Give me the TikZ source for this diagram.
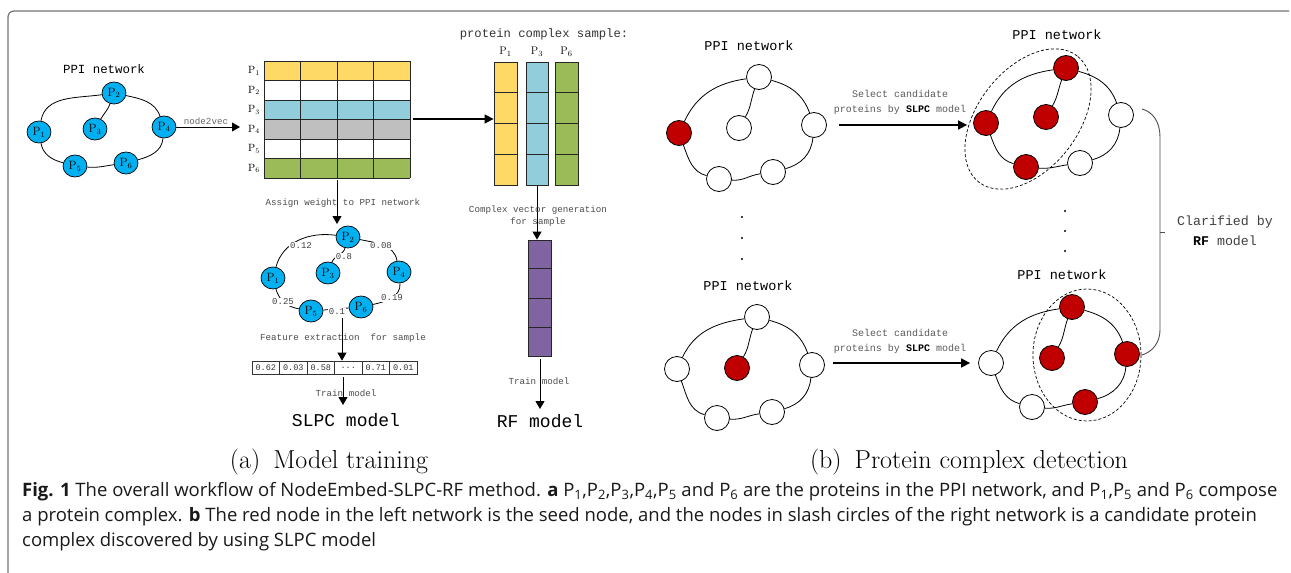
\documentclass[tikz,border=0pt]{standalone}
\usepackage{fontspec}
\setmonofont{Liberation Mono}
\newfontfamily\capfont{Open Sans}
\usetikzlibrary{arrows.meta,shapes.geometric,calc}
\newcommand\cellddd{...}
\definecolor{pcyan}{HTML}{00B0F0}
\definecolor{pred}{HTML}{C00000}
\definecolor{pyel}{HTML}{FFD966}
\definecolor{pblue}{HTML}{92CDDC}
\definecolor{pgray}{HTML}{BFBFBF}
\definecolor{pgreen}{HTML}{9BBB59}
\definecolor{ppurple}{HTML}{8064A2}
\tikzset{
  pn/.style={ellipse, draw=black, line width=0.7pt, fill=pcyan, minimum width=24pt, minimum height=22pt, inner sep=0pt, font=\fontsize{12}{12}\selectfont},
  wn/.style={circle, draw=black, line width=0.8pt, fill=white, minimum size=25pt, inner sep=0pt},
  rn/.style={wn, fill=pred},
  ttl/.style={font=\fontsize{12.4}{14}\selectfont\ttfamily},
  ttr/.style={font=\fontsize{13.5}{15}\selectfont\ttfamily},
  smtxt/.style={font=\fontsize{9.2}{11}\selectfont\ttfamily, text=black!70, inner sep=0pt},
  wlab/.style={font=\fontsize{9}{10}\selectfont\ttfamily, text=black!75, fill=white, inner sep=1pt},
  bigtxt/.style={font=\fontsize{18}{20}\selectfont\ttfamily},
  seltxt/.style={font=\fontsize{10}{12}\selectfont\ttfamily, text=black!65, inner sep=0pt},
  netedge/.style={line width=0.8pt},
  arrline/.style={line width=1pt, -{Triangle[length=8pt,width=9pt]}},
  bigarrow/.style={line width=1.6pt, -{Triangle[length=9pt,width=9pt]}},
  capline/.style={font=\fontsize{18.5}{20}\selectfont\capfont, text=black!90, inner sep=0pt, anchor=base west},
  subcap/.style={font=\fontsize{26}{28}\selectfont\rmfamily, inner sep=0pt, anchor=base},
  cellrow/.style={draw=black!85, line width=0.8pt},
}
\begin{document}
\begin{tikzpicture}[x=1pt,y=1pt]
\useasboundingbox (0,0) rectangle (1291,-573);
% frame
\draw[black!55, line width=1.2pt, rounded corners=6pt] (8,-620) -- (8,-11) -- (1289,-11);

% ---------- (a) left PPI network ----------
\node[ttl] (t1) at (104,-69) {PPI network};
\node[pn] (a1) at (39,-132) {$\mathrm{P}_1$};
\node[pn] (a2) at (114,-93) {$\mathrm{P}_2$};
\node[pn] (a3) at (95,-129) {$\mathrm{P}_3$};
\node[pn] (a4) at (164,-127) {$\mathrm{P}_4$};
\node[pn] (a5) at (75,-166) {$\mathrm{P}_5$};
\node[pn] (a6) at (126,-163) {$\mathrm{P}_6$};
\draw[netedge] (a1) to[out=80,in=188] (a2);
\draw[netedge] (a2) to[out=-12,in=110] (a4);
\draw[netedge] (a4) to[out=-95,in=15] (a6);
\draw[netedge] (a6) to[out=188,in=-5] (a5);
\draw[netedge] (a5) to[out=165,in=-80] (a1);
\draw[netedge] (a2) to[out=-110,in=60] (a3);
\coordinate (n2v) at (240,-127);
\draw[arrline] (a4) -- (n2v);
\node[smtxt, text=black!60] (n2vl) at (206,-121) {node2vec};

% ---------- matrix ----------
\node[minimum width=146pt, minimum height=117pt, inner sep=0pt] (M) at (337,-119.5) {};
\foreach \r/\c in {0/pyel,1/white,2/pblue,3/pgray,4/white,5/pgreen}{
  \fill[\c] (264,-61-19.5*\r) rectangle (410,-80.5-19.5*\r);
}
\foreach \r in {0,...,6}{ \draw[cellrow] (264,-61-19.5*\r) -- (410,-61-19.5*\r); }
\foreach \c in {0,...,4}{ \draw[cellrow] (264+36.5*\c,-61) -- (264+36.5*\c,-178); }
\foreach \r in {1,...,6}{
  \node[font=\fontsize{10.5}{11}\selectfont, inner sep=0pt] (ml\r) at (254,-70.75-19.5*\r+19.5) {$\mathrm{P}_{\r}$};
}

% ---------- protein complex sample ----------
\node[font=\fontsize{12.2}{14}\selectfont\ttfamily, text=black!80] (pcs) at (544,-34) {protein complex sample:};
\node[draw=black!85, line width=0.8pt, fill=pyel, minimum width=23pt, minimum height=123pt, inner sep=0pt] (S1) at (505.5,-123.5) {};
\node[draw=black!85, line width=0.8pt, fill=pblue, minimum width=22pt, minimum height=123pt, inner sep=0pt] (S3) at (537,-123.5) {};
\node[draw=black!85, line width=0.8pt, fill=pgreen, minimum width=23pt, minimum height=123pt, inner sep=0pt] (S6) at (566.5,-123.5) {};
\foreach \s in {S1,S3,S6}{
  \foreach \k in {1,2,3}{
    \draw[cellrow] ($(\s.north west)!\k/4!(\s.south west)$) -- ($(\s.north east)!\k/4!(\s.south east)$);
  }
}
\node[font=\fontsize{11}{11}\selectfont, inner sep=0pt] (l1) at (505.5,-52) {$\mathrm{P}_1$};
\node[font=\fontsize{11}{11}\selectfont, inner sep=0pt] (l3) at (537,-52) {$\mathrm{P}_3$};
\node[font=\fontsize{11}{11}\selectfont, inner sep=0pt] (l6) at (566.5,-52) {$\mathrm{P}_6$};
\coordinate (ms) at (413,-119);
\draw[bigarrow, line width=1.4pt] (ms) -- (ms -| S1.west);

% ---------- purple vector ----------
\node[draw=black!85, line width=0.8pt, fill=ppurple, minimum width=23pt, minimum height=116pt, inner sep=0pt] (V) at (539.5,-298) {};
\foreach \k in {1,2,3}{
  \draw[cellrow] ($(V.north west)!\k/4!(V.south west)$) -- ($(V.north east)!\k/4!(V.south east)$);
}
\draw[arrline] (S3.south) -- (S3.south |- V.north);
\node[smtxt] (cvg1) at (538,-210) {Complex vector generation};
\node[smtxt] (cvg2) at (538,-222) {for sample};
\node[bigtxt, inner sep=0pt] (RF) at (540,-421) {RF model};
\coordinate (vs) at (540,-359);
\draw[arrline] (vs) -- (540,-409);
\node[smtxt] (tm2) at (539,-381) {Train model};

% ---------- weighted network ----------
\node[pn] (b1) at (273,-278) {$\mathrm{P}_1$};
\node[pn] (b2) at (348,-237) {$\mathrm{P}_2$};
\node[pn] (b3) at (328,-273) {$\mathrm{P}_3$};
\node[pn] (b4) at (399,-272) {$\mathrm{P}_4$};
\node[pn] (b5) at (311,-311) {$\mathrm{P}_5$};
\node[pn] (b6) at (361,-307) {$\mathrm{P}_6$};
\draw[netedge] (b1) to[out=75,in=172] (b2);
\draw[netedge] (b2) to[out=-12,in=100] (b4);
\draw[netedge] (b2) to[out=-105,in=70] (b3);
\draw[netedge] (b1) to[out=-75,in=170] (b5);
\draw[netedge] (b5) -- (b6);
\draw[netedge] (b6) to[out=12,in=-85] (b4);
\node[wlab] (w12) at (301,-246) {0.12};
\node[wlab] (w08) at (381,-246) {0.08};
\node[wlab] (w8) at (344,-257) {0.8};
\node[wlab] (w25) at (283,-302) {0.25};
\node[wlab] (w1) at (337,-312) {0.1};
\node[wlab] (w19) at (392,-298) {0.19};
\coordinate (mb) at (337,-180);
\draw[arrline] (mb) -- (337,-224);
\node[smtxt] (asg) at (343,-203) {Assign weight to PPI network};

% ---------- feature vector ----------
\node[draw=black!80, line width=0.7pt, minimum width=165pt, minimum height=13pt, inner sep=0pt] (FV) at (334.5,-367.5) {};
\foreach \k/\t in {0/0.62,1/0.03,2/0.58,3/\cellddd,4/0.71,5/0.01}{
  \draw[black!80, line width=0.7pt] (252+27.5*\k,-361) -- (252+27.5*\k,-374);
  \node[font=\fontsize{8.5}{9}\selectfont\ttfamily, text=black!80, inner sep=0pt] (fv\k) at (265.75+27.5*\k,-367.5) {\t};
}
\coordinate (fe) at (342,-318);
\draw[arrline] (fe) -- (fe |- FV.north);
\node[smtxt] (fex) at (343,-338) {Feature extraction\ \ for sample};
\node[bigtxt, inner sep=0pt] (SLPC) at (346,-420) {SLPC model};
\coordinate (fvs) at (343,-377);
\draw[arrline] (fvs) -- (343,-405);
\node[smtxt] (tm1) at (346,-393) {Train model};

% ---------- (b) right panel ----------
% top-left network
\node[ttr] (t2) at (749,-46) {PPI network};
\node[rn] (c1) at (679,-133) {};
\node[wn] (c2) at (759,-77) {};
\node[wn] (c3) at (739,-128) {};
\node[wn] (c4) at (814,-125) {};
\node[wn] (c5) at (719,-179) {};
\node[wn] (c6) at (773,-172) {};
\draw[netedge] (c1) to[out=65,in=188] (c2);
\draw[netedge] (c2) to[out=-15,in=110] (c4);
\draw[netedge] (c4) to[out=-95,in=15] (c6);
\draw[netedge] (c6) to[out=188,in=-5] (c5);
\draw[netedge] (c5) to[out=165,in=-70] (c1);
\draw[netedge] (c2) to[out=-110,in=60] (c3);

% top-right network
\node[ttr] (t3) at (1057,-35) {PPI network};
\node[rn] (d1) at (986,-123) {};
\node[rn] (d2) at (1066,-68) {};
\node[rn] (d3) at (1046,-117) {};
\node[wn] (d4) at (1121,-115) {};
\node[rn] (d5) at (1026,-167) {};
\node[wn] (d6) at (1080,-163) {};
\draw[netedge] (d1) to[out=65,in=188] (d2);
\draw[netedge] (d2) to[out=-15,in=110] (d4);
\draw[netedge] (d4) to[out=-95,in=15] (d6);
\draw[netedge] (d6) to[out=188,in=-5] (d5);
\draw[netedge] (d5) to[out=165,in=-70] (d1);
\draw[netedge] (d2) to[out=-110,in=60] (d3);
\draw[line width=0.7pt, dash pattern=on 3pt off 2pt] (1028,-119) ellipse[x radius=80, y radius=50, rotate=52];

% bottom-left network
\node[ttr] (t4) at (748,-286) {PPI network};
\node[wn] (e1) at (677,-369) {};
\node[wn] (e2) at (757,-317) {};
\node[rn] (e3) at (737,-368) {};
\node[wn] (e4) at (812,-365) {};
\node[wn] (e5) at (717,-418) {};
\node[wn] (e6) at (772,-412) {};
\draw[netedge] (e1) to[out=65,in=188] (e2);
\draw[netedge] (e2) to[out=-15,in=110] (e4);
\draw[netedge] (e4) to[out=-95,in=15] (e6);
\draw[netedge] (e6) to[out=188,in=-5] (e5);
\draw[netedge] (e5) to[out=165,in=-70] (e1);
\draw[netedge] (e2) to[out=-110,in=60] (e3);

% bottom-right network
\node[ttr] (t5) at (1062,-275) {PPI network};
\node[wn] (f1) at (991,-363) {};
\node[rn] (f2) at (1072,-307) {};
\node[rn] (f3) at (1052,-358) {};
\node[rn] (f4) at (1127,-354) {};
\node[wn] (f5) at (1032,-407) {};
\node[rn] (f6) at (1085,-402) {};
\draw[netedge] (f1) to[out=65,in=188] (f2);
\draw[netedge] (f2) to[out=-15,in=110] (f4);
\draw[netedge] (f4) to[out=-95,in=15] (f6);
\draw[netedge] (f6) to[out=188,in=-5] (f5);
\draw[netedge] (f5) to[out=165,in=-70] (f1);
\draw[netedge] (f2) to[out=-110,in=60] (f3);
\draw[line width=0.7pt, dash pattern=on 3pt off 2pt] (1087,-355) ellipse[x radius=54, y radius=66];

% select arrows
\coordinate (s1) at (839,-125);
\draw[bigarrow, shorten >=6pt] (s1) -- (s1 -| d1.west);
\node[seltxt] (sl1) at (900,-94) {Select candidate};
\node[seltxt] (sl2) at (900,-110) {proteins by \textbf{\textcolor{black}{SLPC}} model};
\coordinate (s2) at (833,-363);
\draw[bigarrow, shorten >=8pt] (s2) -- (s2 -| f1.west);
\node[seltxt] (sl3) at (900,-333) {Select candidate};
\node[seltxt] (sl4) at (900,-349) {proteins by \textbf{\textcolor{black}{SLPC}} model};

% dots
\foreach \y in {217,238,259}{ \fill (742,-\y) circle[radius=1.2]; }
\foreach \y in {211,231,251}{ \fill (1065,-\y) circle[radius=1.2]; }

% bracket
\coordinate (br1) at (1142,-109);
\coordinate (br2) at (1142,-355);
\draw[black!70, line width=0.9pt] (br1) .. controls (1153,-112) and (1160,-122) .. (1160,-137) -- (1160,-330) .. controls (1160,-343) and (1152,-352) .. (br2);
\draw[black!70, line width=0.9pt] (1160,-232) -- (1165,-232);
\node[font=\fontsize{13.3}{15}\selectfont\ttfamily, text=black!75, inner sep=0pt] (cl1) at (1225,-222) {Clarified by};
\node[font=\fontsize{13.3}{15}\selectfont\ttfamily, text=black!75, inner sep=0pt] (cl2) at (1225,-241) {\textbf{\textcolor{black}{RF}} model};

% subcaptions
\node[subcap] (sa) at (329,-468) {(a)\enspace Model training};
\node[subcap] (sb) at (969,-468) {(b)\enspace Protein complex detection};

% caption
\node[capline] (cap1) at (22,-496) {\textbf{Fig. 1} The overall workflow of NodeEmbed-SLPC-RF method. \textbf{a} P\textsubscript{1},P\textsubscript{2},P\textsubscript{3},P\textsubscript{4},P\textsubscript{5} and P\textsubscript{6} are the proteins in the PPI network, and P\textsubscript{1},P\textsubscript{5} and P\textsubscript{6} compose};
\node[capline] (cap2) at (22,-521) {a protein complex. \textbf{b} The red node in the left network is the seed node, and the nodes in slash circles of the right network is a candidate protein};
\node[capline] (cap3) at (22,-546) {complex discovered by using SLPC model};
\end{tikzpicture}
\end{document}
